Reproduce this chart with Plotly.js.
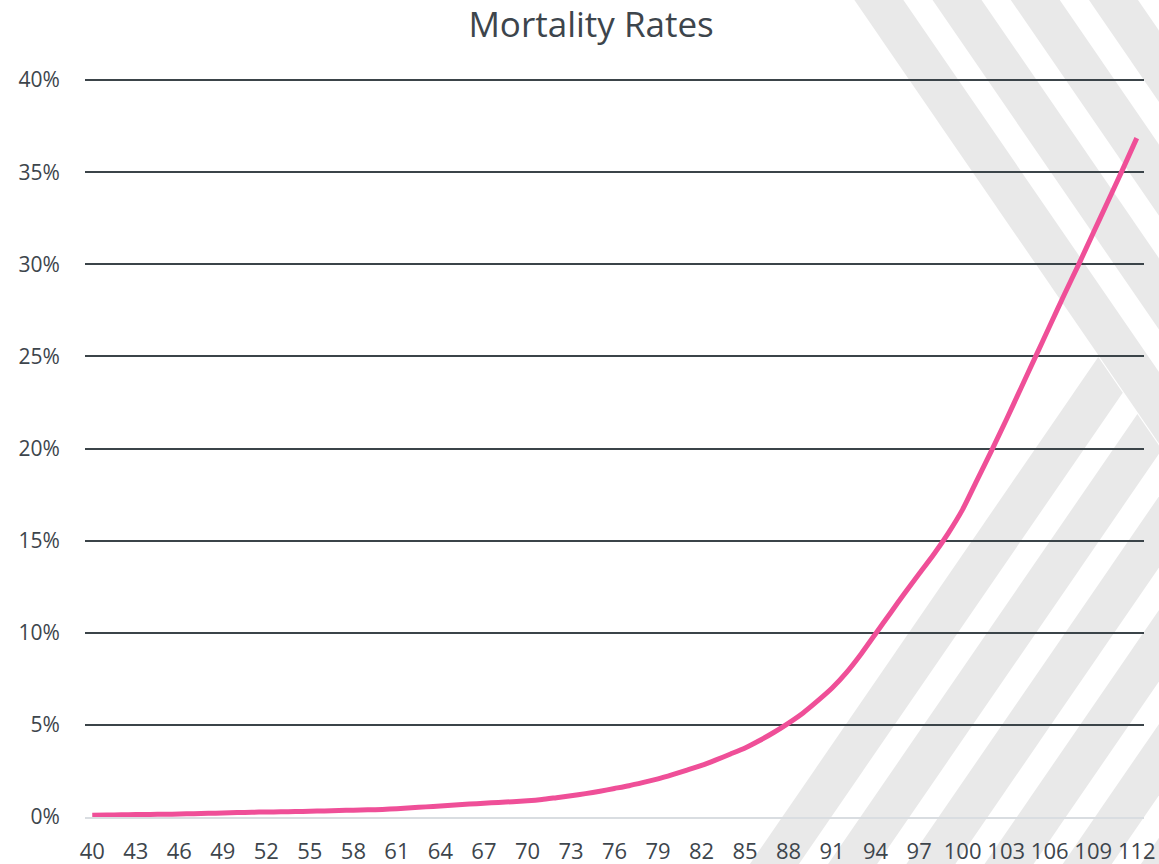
<!DOCTYPE html>
<html>
<head>
<meta charset="utf-8">
<script src="https://cdn.plot.ly/plotly-3.0.1.min.js"></script>
<style>
  html, body { margin: 0; padding: 0; background: #ffffff; }
  #chart { width: 1159px; height: 864px; }
</style>
</head>
<body>
<div id="chart"></div>
<script>
// ---- Data ----
var ages = [40,41,42,43,44,45,46,47,48,49,50,51,52,53,54,55,56,57,58,59,
            60,61,62,63,64,65,66,67,68,69,70,71,72,73,74,75,76,77,78,79,
            80,81,82,83,84,85,86,87,88,89,90,91,92,93,94,95,96,97,98,99,
            100,101,102,103,104,105,106,107,108,109,110,111,112];
var mortalityPct = [0.10,0.11,0.12,0.13,0.14,0.15,0.16,0.18,0.20,0.22,
                    0.24,0.26,0.27,0.28,0.30,0.31,0.33,0.35,0.37,0.39,
                    0.41,0.45,0.50,0.55,0.60,0.65,0.70,0.75,0.79,0.83,
                    0.88,0.95,1.05,1.15,1.27,1.40,1.55,1.70,1.88,2.07,
                    2.30,2.55,2.80,3.10,3.42,3.75,4.15,4.60,5.10,5.65,
                    6.30,7.00,7.85,8.85,9.95,11.05,12.15,13.20,14.25,15.40,
                    16.70,18.30,19.90,21.55,23.25,24.95,26.65,28.35,30.00,31.70,
                    33.40,35.10,36.85];
var xTickAges = [40,43,46,49,52,55,58,61,64,67,70,73,76,79,82,85,88,91,94,97,100,103,106,109,112];
var yTickVals = [0,5,10,15,20,25,30,35,40];
var yTickText = ["0%","5%","10%","15%","20%","25%","30%","35%","40%"];
var chartTitle = "Mortality Rates";

// ---- Layout geometry ----
var W = 1159, H = 864;
var M = {l: 85, r: 15, t: 79, b: 47};
var PW = W - M.l - M.r, PH = H - M.t - M.b;
function px(x) { return (x - M.l) / PW; }
function py(y) { return (H - M.b - y) / PH; }
function pathFrom(pts) {
  return 'M' + pts.map(function (p) { return px(p[0]).toFixed(5) + ',' + py(p[1]).toFixed(5); }).join('L') + 'Z';
}

// decorative background stripes (chevron motif)
var s = 0.687, band = 49, period = 78.2, apexY = 357, x0 = 853;
var shapes = [];
function L1(y) { return x0 + s * y; }
for (var k = 0; k < 5; k++) {
  var a = x0 + period * k;
  shapes.push({type: 'path', xref: 'paper', yref: 'paper', layer: 'below',
    path: pathFrom([[a, -2], [a + band, -2], [a + band + s * 868, 866], [a + s * 868, 866]]),
    fillcolor: '#e9e9e9', line: {width: 0}});
}
var apexX = L1(apexY);
for (var k = 0; k < 8; k++) {
  var aL = apexX + period * k, aR = aL + band;
  var yL = (aL + s * apexY - x0) / (2 * s);
  var yR = (aR + s * apexY - x0) / (2 * s);
  var bottom = 866;
  var pts = [[L1(yL), yL], [L1(yR), yR],
             [aR - s * (bottom - apexY), bottom], [aL - s * (bottom - apexY), bottom]];
  shapes.push({type: 'path', xref: 'paper', yref: 'paper', layer: 'below',
    path: pathFrom(pts), fillcolor: '#e9e9e9', line: {width: 0}});
}

var trace = {
  x: ages, y: mortalityPct, type: 'scatter', mode: 'lines',
  line: {color: '#ef4f98', width: 5, shape: 'spline', smoothing: 0.6},
  hoverinfo: 'x+y'
};

var textColor = '#3d454c';
var layout = {
  width: W, height: H,
  margin: M,
  paper_bgcolor: '#ffffff',
  plot_bgcolor: 'rgba(0,0,0,0)',
  showlegend: false,
  title: {
    text: chartTitle,
    font: {family: 'Open Sans, sans-serif', size: 35, color: textColor},
    x: 0.51, xanchor: 'center', xref: 'container',
    y: 0.971, yanchor: 'middle', yref: 'container'
  },
  xaxis: {
    range: [39.5, 112.5],
    tickmode: 'array', tickvals: xTickAges, ticktext: xTickAges.map(String),
    showgrid: false, zeroline: false,
    showline: true, linecolor: '#d9dde1', linewidth: 2,
    ticks: 'outside', ticklen: 14, tickcolor: 'rgba(0,0,0,0)',
    tickfont: {family: 'Open Sans, sans-serif', size: 22, color: textColor},
    fixedrange: true
  },
  yaxis: {
    range: [0, 40.06],
    tickmode: 'array', tickvals: yTickVals, ticktext: yTickText,
    showgrid: true, gridcolor: '#3b4449', gridwidth: 2,
    zeroline: false, showline: false,
    ticks: 'outside', ticklen: 20, tickcolor: 'rgba(0,0,0,0)',
    tickfont: {family: 'Open Sans, sans-serif', size: 21, color: textColor},
    fixedrange: true
  },
  shapes: shapes
};

Plotly.newPlot('chart', [trace], layout, {displayModeBar: false, staticPlot: true});
</script>
</body>
</html>
